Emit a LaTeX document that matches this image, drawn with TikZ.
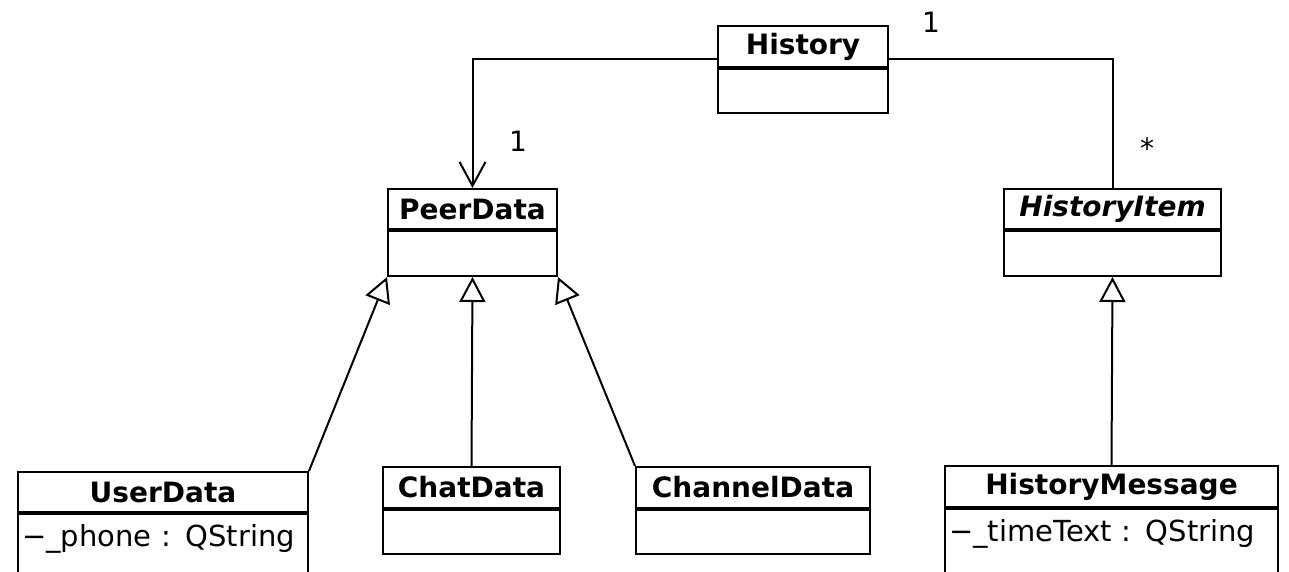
\documentclass[tikz,border=0pt]{standalone}
\usepackage{fontspec}
\setmainfont{DejaVu Sans}
\usetikzlibrary{arrows.meta}

\begin{document}
\begin{tikzpicture}[x=1pt,y=-1pt]
  \tikzset{
    classhead/.style={draw, line width=2pt, anchor=north west, inner sep=0pt,
      minimum height=41pt, font=\fontsize{28}{32}\selectfont\bfseries},
    classbody/.style={draw, line width=2pt, anchor=north, inner sep=0pt, minimum height=44pt},
    attrbody/.style={draw, line width=2pt, anchor=north, inner xsep=4pt, inner ysep=0pt,
      align=left, text height=32pt, text depth=48pt, font=\fontsize{29}{32}\selectfont},
    mult/.style={font=\fontsize{28}{32}\selectfont},
    plain/.style={line width=2pt},
    assoc/.style={line width=2pt, -{Straight Barb[length=24pt,width=26pt]}},
    gen/.style={line width=2pt, -{Triangle[length=25pt,width=26pt,fill=white]}}
  }
  \useasboundingbox (0,0) rectangle (1289,572);
  \clip (0,0) rectangle (1289,572);

  % classes
  \node[classhead, minimum width=170pt] (histhead) at (717,25) {History};
  \node[classbody, minimum width=170pt] (histbody) at (histhead.south) {};
  \node[classhead, minimum width=169pt, minimum height=40pt] (peerhead) at (387,188) {PeerData};
  \node[classbody, minimum width=169pt, minimum height=45pt] (peerbody) at (peerhead.south) {};
  \node[classhead, minimum width=217pt, minimum height=40pt, font=\fontsize{28}{32}\selectfont\bfseries\itshape] (itemhead) at (1003,188) {HistoryItem};
  \node[classbody, minimum width=217pt, minimum height=45pt] (itembody) at (itemhead.south) {};
  \node[classhead, minimum width=290pt, minimum height=40pt] (userhead) at (17,471) {UserData};
  \node[attrbody, text width=282pt] (userbody) at (userhead.south) {−\_phone : QString};
  \node[classhead, minimum width=177pt] (chathead) at (382,466) {ChatData};
  \node[classbody, minimum width=177pt] (chatbody) at (chathead.south) {};
  \node[classhead, minimum width=234pt] (chanhead) at (635,466) {ChannelData};
  \node[classbody, minimum width=234pt] (chanbody) at (chanhead.south) {};
  \node[classhead, minimum width=333pt] (msghead) at (944,465) {HistoryMessage};
  \node[attrbody, text width=325pt] (msgbody) at (msghead.south) {−\_timeText : QString};

  % multiplicities
  \node[mult] (histmult) at (931,22) {1};
  \node[mult] (peermult) at (518,141) {1};
  \node[mult] (itemmult) at (1147,148) {*};

  %edges
  \draw[assoc] ([yshift=9pt]histhead.south west) -| (peerhead.north);
  \draw[plain] ([yshift=9pt]histhead.south east) -| (itemhead.north);
  \draw[gen] (userhead.north east) -- (peerbody.south west);
  \draw[gen] (chathead.north) -- (peerbody.south);
  \draw[gen] (chanhead.north west) -- (peerbody.south east);
  \draw[gen] (msghead.north) -- (itembody.south);
\end{tikzpicture}
\end{document}
